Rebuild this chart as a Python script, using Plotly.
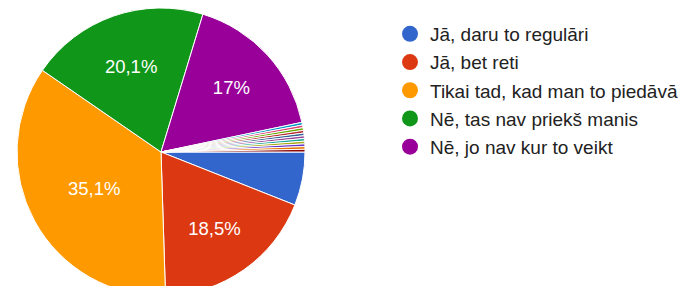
import plotly.graph_objects as go

main_labels = ["Jā, daru to regulāri", "Jā, bet reti", "Tikai tad, kad man to piedāvā",
               "Nē, tas nav priekš manis", "Nē, jo nav kur to veikt"]
main_values = [6.0, 18.5, 35.1, 20.1, 17.0]
main_colors = ["#3366cc", "#dc3912", "#ff9900", "#109618", "#990099"]

other_labels = [f"Cits {i+1}" for i in range(11)]
other_values = [0.3] * 11
other_colors = ["#0099c6", "#dd4477", "#66aa00", "#b82e2e", "#316395", "#994499",
                "#22aa99", "#aaaa11", "#6633cc", "#e67300", "#8b0707"]

labels = main_labels + other_labels
values = main_values + other_values
colors = main_colors + other_colors


def fmt(v):
    if v < 10:
        return ""
    s = f"{v:.1f}"
    if s.endswith(".0"):
        s = s[:-2]
    return s.replace(".", ",") + "%"


texts = [fmt(v) for v in values]

W, H = 692, 300
OFF = 8          # page body margin
cx, cy, r = 161 - OFF, 152 - OFF, 144

fig = go.Figure()
fig.add_trace(go.Pie(
    labels=labels, values=values, sort=False, direction="clockwise", rotation=90,
    marker=dict(colors=colors, line=dict(color="white", width=1)),
    text=texts, textinfo="text", textposition="inside",
    insidetextorientation="horizontal",
    textfont=dict(color="white", size=18.5, family="Liberation Sans, Arial"),
    showlegend=False, hoverinfo="label+percent",
    domain=dict(x=[(cx - r) / W, (cx + r) / W],
                y=[max(0, 1 - (cy + r) / H), min(1, 1 - (cy - r) / H)]),
))

for i, (lab, col) in enumerate(zip(main_labels, main_colors)):
    fig.add_trace(go.Scatter(
        x=[None], y=[None], mode="markers", name=lab, legendgroup=f"g{i}",
        marker=dict(color=col, size=16, symbol="circle"),
    ))

fig.update_layout(
    width=W, height=H, margin=dict(l=0, r=0, t=0, b=0),
    paper_bgcolor="white", plot_bgcolor="white",
    xaxis=dict(visible=False), yaxis=dict(visible=False),
    legend=dict(x=382 / W, xanchor="left", y=1 - 7 / H, yanchor="top",
                font=dict(size=19, color="#222222", family="Liberation Sans, Arial"),
                traceorder="grouped", tracegroupgap=0.5, bgcolor="rgba(0,0,0,0)"),
    font=dict(family="Liberation Sans, Arial"),
)

fig.write_html("out.html")
